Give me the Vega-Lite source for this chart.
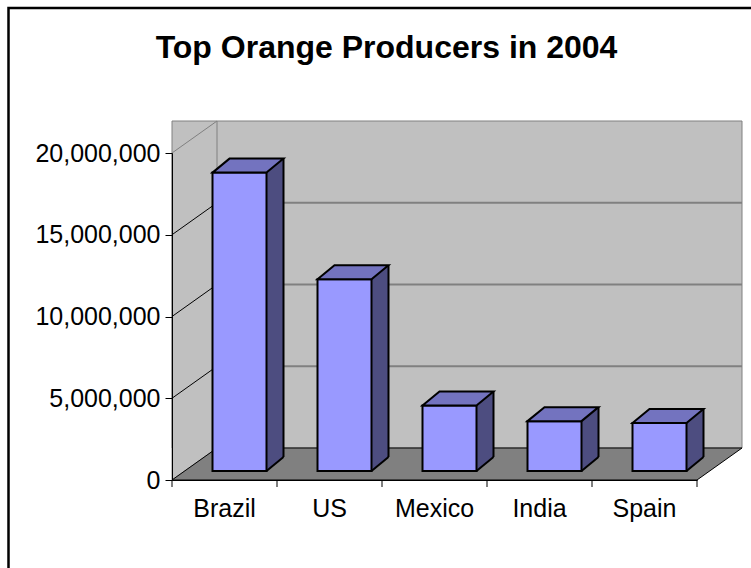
{
  "$schema": "https://vega.github.io/schema/vega-lite/v6.json",
  "width": 525,
  "height": 327,
  "autosize": {"type": "none"},
  "padding": {"left": 172, "top": 153, "right": 54, "bottom": 88},
  "background": "white",
  "config": {"view": {"stroke": null}, "font": "Liberation Sans"},
  "title": {
    "text": "Top Orange Producers in 2004",
    "fontSize": 32,
    "fontWeight": "bold",
    "font": "Liberation Sans",
    "color": "black",
    "anchor": "middle",
    "frame": "group",
    "baseline": "alphabetic",
    "offset": 0,
    "dx": -48,
    "dy": 87
  },
  "datasets": {
    "bars": [
      {"country": "Brazil", "tonnes": 18250000},
      {"country": "US", "tonnes": 11730000},
      {"country": "Mexico", "tonnes": 4000000},
      {"country": "India", "tonnes": 3050000},
      {"country": "Spain", "tonnes": 2930000}
    ],
    "ticks": [
      {"value": 5000000},
      {"value": 10000000},
      {"value": 15000000}
    ],
    "one": [{}]
  },
  "data": {"name": "bars"},
  "layer": [
    {
      "data": {"name": "one"},
      "mark": {"type": "point", "shape": "M-216,-472 L537.5,-472 L537.5,98 L-216,98 Z", "size": 4, "filled": false, "stroke": "black", "strokeWidth": 2.5, "opacity": 1},
      "encoding": {
        "x": {"datum": "Brazil", "type": "nominal", "title": null, "scale": {"domain": ["Brazil", "US", "Mexico", "India", "Spain"], "paddingInner": 0, "paddingOuter": 0}},
        "y": {"datum": 0, "type": "quantitative", "title": null, "scale": {"domain": [0, 20000000], "nice": false}}
      }
    },
    {
      "data": {"name": "one"},
      "mark": {"type": "rect", "fill": "#c0c0c0", "stroke": "#808080", "strokeWidth": 1, "xOffset": 45, "x2Offset": 45, "yOffset": -32, "y2Offset": -32},
      "encoding": {
        "y": {"datum": 20000000, "type": "quantitative", "title": null},
        "y2": {"datum": 0}
      }
    },
    {
      "data": {"name": "ticks"},
      "mark": {"type": "rule", "color": "#808080", "strokeWidth": 2, "xOffset": 45, "x2Offset": 45, "yOffset": -32},
      "encoding": {
        "y": {"field": "value", "type": "quantitative", "title": null}
      }
    },
    {
      "data": {"name": "one"},
      "mark": {"type": "point", "shape": "M-52.5,0 L-52.5,-327 L-7.5,-359 L-7.5,-32 Z", "size": 4, "filled": true, "fill": "#c0c0c0", "stroke": "#808080", "strokeWidth": 1, "opacity": 1},
      "encoding": {
        "x": {"datum": "Brazil", "type": "nominal", "title": null},
        "y": {"datum": 0, "type": "quantitative", "title": null}
      }
    },
    {
      "data": {"name": "ticks"},
      "mark": {"type": "point", "shape": "M-52.5,0 L-7.5,-32", "size": 4, "filled": false, "stroke": "black", "strokeWidth": 1, "opacity": 1},
      "encoding": {
        "x": {"datum": "Brazil", "type": "nominal", "title": null},
        "y": {"field": "value", "type": "quantitative", "title": null}
      }
    },
    {
      "data": {"name": "one"},
      "mark": {"type": "point", "shape": "M-52.5,0 L472.5,0 L517.5,-32 L-7.5,-32 Z", "size": 4, "filled": true, "fill": "#808080", "stroke": "black", "strokeWidth": 1, "opacity": 1},
      "encoding": {
        "x": {"datum": "Brazil", "type": "nominal", "title": null},
        "y": {"datum": 0, "type": "quantitative", "title": null}
      }
    },
    {
      "mark": {"type": "rule", "stroke": "black", "strokeWidth": 1, "xOffset": -52.5, "y2Offset": 7},
      "encoding": {
        "x": {"field": "country", "type": "nominal", "title": null},
        "y": {"datum": 0, "type": "quantitative", "title": null},
        "y2": {"datum": 0}
      }
    },
    {
      "data": {"name": "one"},
      "mark": {"type": "rule", "stroke": "black", "strokeWidth": 1, "xOffset": 52.5, "y2Offset": 7},
      "encoding": {
        "x": {"datum": "Spain", "type": "nominal", "title": null},
        "y": {"datum": 0, "type": "quantitative", "title": null},
        "y2": {"datum": 0}
      }
    },
    {
      "mark": {"type": "bar", "width": 17, "fill": "#4d4d80", "xOffset": 50.5, "yOffset": -23, "y2Offset": -9},
      "encoding": {
        "x": {"field": "country", "type": "nominal", "title": null},
        "y": {"field": "tonnes", "type": "quantitative", "title": null},
        "y2": {"datum": 0}
      }
    },
    {
      "mark": {"type": "point", "shape": "M-0.5,0.7 L17.8,-14.3 L17.8,0.7 Z", "size": 4, "filled": true, "fill": "#808080", "strokeWidth": 0, "opacity": 1, "xOffset": 42, "yOffset": -9},
      "encoding": {
        "x": {"field": "country", "type": "nominal", "title": null},
        "y": {"datum": 0, "type": "quantitative", "title": null}
      }
    },
    {
      "mark": {"type": "bar", "width": 54, "fill": "#9999ff", "stroke": "black", "strokeWidth": 2, "xOffset": 15, "yOffset": -9, "y2Offset": -9},
      "encoding": {
        "x": {
          "field": "country",
          "type": "nominal",
          "title": null,
          "axis": {
            "title": null,
            "domainColor": "black",
            "domainWidth": 1,
            "ticks": false,
            "labelFontSize": 25,
            "labelFont": "Liberation Sans",
            "labelColor": "black",
            "labelPadding": 28,
            "labelAngle": 0,
            "labelAlign": "center",
            "labelOverlap": false,
            "grid": false,
            "zindex": 2
          }
        },
        "y": {
          "field": "tonnes",
          "type": "quantitative",
          "title": null,
          "axis": {
            "title": null,
            "format": ",d",
            "values": [0, 5000000, 10000000, 15000000, 20000000],
            "domainColor": "black",
            "domainWidth": 1,
            "tickColor": "black",
            "tickSize": 7,
            "labelFontSize": 25,
            "labelFont": "Liberation Sans",
            "labelColor": "black",
            "labelPadding": 5,
            "grid": false,
            "zindex": 2
          }
        },
        "y2": {"datum": 0}
      }
    },
    {
      "mark": {"type": "point", "shape": "M0,0 L17,-14 L71,-14 L54,0 Z", "size": 4, "filled": true, "fill": "#7373bf", "stroke": "black", "strokeWidth": 2, "opacity": 1, "xOffset": -12, "yOffset": -9},
      "encoding": {
        "x": {"field": "country", "type": "nominal", "title": null},
        "y": {"field": "tonnes", "type": "quantitative", "title": null}
      }
    },
    {
      "mark": {"type": "rule", "stroke": "black", "strokeWidth": 2, "xOffset": 59, "yOffset": -23, "y2Offset": -23},
      "encoding": {
        "x": {"field": "country", "type": "nominal", "title": null},
        "y": {"field": "tonnes", "type": "quantitative", "title": null},
        "y2": {"datum": 0}
      }
    },
    {
      "mark": {"type": "point", "shape": "M0,0 L17,-14", "size": 4, "filled": false, "stroke": "black", "strokeWidth": 2, "opacity": 1, "xOffset": 42, "yOffset": -9},
      "encoding": {
        "x": {"field": "country", "type": "nominal", "title": null},
        "y": {"datum": 0, "type": "quantitative", "title": null}
      }
    }
  ]
}
